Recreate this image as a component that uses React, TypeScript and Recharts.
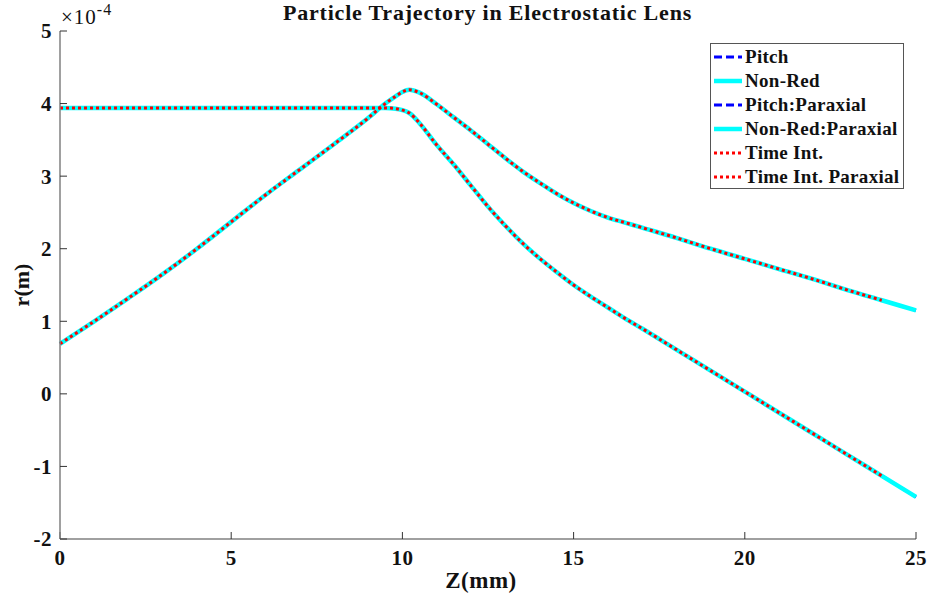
import { Line, LineChart, XAxis, YAxis } from "recharts";

// z positions (mm) and radial positions (units of 1e-4 m)
const zMm = [
  0, 1, 2, 3, 4, 5, 6, 7, 8, 9, 9.5, 9.8, 10, 10.2, 10.5, 11, 11.5, 12, 12.5, 13, 13.5, 14, 14.5, 15,
  15.5, 16, 16.5, 17, 18, 19, 20, 21, 22, 23, 24, 25,
];
const rOffAxis = [
  0.69, 1.0, 1.32, 1.65, 2.0, 2.37, 2.74, 3.09, 3.44, 3.8, 4.0, 4.1, 4.16, 4.19, 4.15, 3.99, 3.81, 3.63,
  3.44, 3.25, 3.07, 2.91, 2.76, 2.63, 2.52, 2.43, 2.36, 2.29, 2.15, 2.0, 1.86, 1.72, 1.58, 1.43, 1.29,
  1.15,
];
const rParallel = [
  3.94, 3.94, 3.94, 3.94, 3.94, 3.94, 3.94, 3.94, 3.94, 3.94, 3.94, 3.93, 3.91, 3.87, 3.73, 3.43, 3.16,
  2.87, 2.58, 2.32, 2.08, 1.87, 1.68, 1.5, 1.34, 1.19, 1.04, 0.9, 0.61, 0.32, 0.03, -0.26, -0.55, -0.84,
  -1.13, -1.42,
];
const timeIntEndMm = 24;

const xTicks = [0, 5, 10, 15, 20, 25];
const yTicks = [-2, -1, 0, 1, 2, 3, 4, 5];

const series = [
  { key: "pitch", name: "Pitch", color: "#0000ff", width: 3, dash: "8 4" },
  { key: "nonRed", name: "Non-Red", color: "#00ffff", width: 4.5, dash: undefined },
  { key: "pitchParaxial", name: "Pitch:Paraxial", color: "#0000ff", width: 3, dash: "8 4" },
  { key: "nonRedParaxial", name: "Non-Red:Paraxial", color: "#00ffff", width: 4.5, dash: undefined },
  { key: "timeInt", name: "Time Int.", color: "#ff0000", width: 3, dash: "3 3" },
  { key: "timeIntParaxial", name: "Time Int. Paraxial", color: "#ff0000", width: 3, dash: "3 3" },
];

const data = zMm.map((z, i) => ({
  z,
  pitch: rOffAxis[i],
  nonRed: rOffAxis[i],
  pitchParaxial: rParallel[i],
  nonRedParaxial: rParallel[i],
  timeInt: z <= timeIntEndMm ? rOffAxis[i] : null,
  timeIntParaxial: z <= timeIntEndMm ? rParallel[i] : null,
}));

const FONT = "'Liberation Serif', 'Times New Roman', serif";
const AXIS_GRAY = "#808080";
const TICK_DARK = "#333333";

function LegendBox() {
  return (
    <div
      style={{
        position: "absolute",
        left: 710,
        top: 43,
        width: 192,
        height: 143,
        border: "1px solid #555",
        background: "#fff",
        paddingTop: 1,
      }}
    >
      {series.map((s) => (
        <div key={s.key} style={{ display: "flex", alignItems: "center", height: 24 }}>
          <svg width={34} height={10} style={{ flexShrink: 0 }}>
            <line
              x1={3}
              y1={5}
              x2={31}
              y2={5}
              stroke={s.color}
              strokeWidth={s.width}
              strokeDasharray={s.dash}
            />
          </svg>
          <span
            style={{
              fontFamily: FONT,
              fontWeight: 700,
              fontSize: 19,
              letterSpacing: 0.3,
              color: "#111",
              whiteSpace: "nowrap",
            }}
          >
            {s.name}
          </span>
        </div>
      ))}
    </div>
  );
}

export default function App() {
  const tickStyle = {
    fill: "#111",
    fontSize: 21,
    fontWeight: 700,
    fontFamily: FONT,
    letterSpacing: 0.5,
  };
  return (
    <div style={{ position: "absolute", left: 0, top: 0, width: 928, height: 607, background: "#fff" }}>
      <LineChart
        width={928}
        height={607}
        data={data}
        margin={{ top: 31, right: 12, bottom: 38, left: 10 }}
      >
        <XAxis
          dataKey="z"
          type="number"
          domain={[0, 25]}
          ticks={xTicks}
          interval={0}
          height={30}
          tick={tickStyle}
          tickSize={-7}
          tickMargin={18}
          axisLine={{ stroke: AXIS_GRAY, strokeWidth: 1.5 }}
          tickLine={{ stroke: TICK_DARK }}
        />
        <XAxis
          xAxisId="top"
          orientation="top"
          dataKey="z"
          type="number"
          domain={[0, 25]}
          ticks={xTicks}
          interval={0}
          height={0}
          tick={false}
          tickSize={-7}
          axisLine={{ stroke: AXIS_GRAY, strokeWidth: 1.5 }}
          tickLine={{ stroke: TICK_DARK }}
        />
        <YAxis
          type="number"
          domain={[-2, 5]}
          ticks={yTicks}
          interval={0}
          width={50}
          tick={tickStyle}
          tickSize={-7}
          tickMargin={15}
          axisLine={{ stroke: AXIS_GRAY, strokeWidth: 1.5 }}
          tickLine={{ stroke: TICK_DARK }}
        />
        <YAxis
          yAxisId="right"
          orientation="right"
          type="number"
          domain={[-2, 5]}
          ticks={yTicks}
          interval={0}
          width={0}
          tick={false}
          tickSize={-7}
          axisLine={{ stroke: AXIS_GRAY, strokeWidth: 1.5 }}
          tickLine={{ stroke: TICK_DARK }}
        />
        {series.map((s) => (
          <Line
            key={s.key}
            dataKey={s.key}
            name={s.name}
            type="monotone"
            stroke={s.color}
            strokeWidth={s.width}
            strokeDasharray={s.dash}
            dot={false}
            activeDot={false}
            connectNulls={false}
            isAnimationActive={false}
          />
        ))}
      </LineChart>

      <LegendBox />

      <div
        style={{
          position: "absolute",
          left: 0,
          width: 975,
          top: 0,
          textAlign: "center",
          fontFamily: FONT,
          fontWeight: 700,
          fontSize: 22,
          letterSpacing: 0.8,
          color: "#111",
        }}
      >
        Particle Trajectory in Electrostatic Lens
      </div>
      <div
        style={{
          position: "absolute",
          left: 61,
          top: 2,
          fontFamily: FONT,
          fontSize: 21,
          letterSpacing: 1,
          color: "#111",
          whiteSpace: "nowrap",
        }}
      >
        ×10<sup style={{ fontSize: 16, position: "relative", top: -1 }}>-4</sup>
      </div>
      <div
        style={{
          position: "absolute",
          left: 0,
          width: 962,
          top: 568,
          textAlign: "center",
          fontFamily: FONT,
          fontWeight: 700,
          fontSize: 23,
          letterSpacing: 0.5,
          color: "#111",
        }}
      >
        Z(mm)
      </div>
      <div
        style={{
          position: "absolute",
          left: 22,
          top: 285,
          transform: "translate(-50%, -50%) rotate(-90deg)",
          fontFamily: FONT,
          fontWeight: 700,
          fontSize: 22,
          color: "#111",
          whiteSpace: "nowrap",
        }}
      >
        r(m)
      </div>
    </div>
  );
}
